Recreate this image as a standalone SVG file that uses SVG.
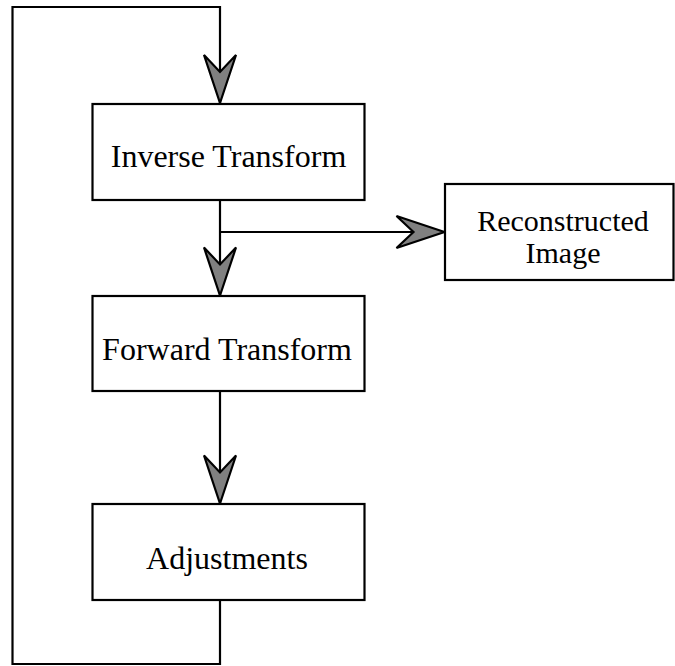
<svg xmlns="http://www.w3.org/2000/svg" width="675" height="666" viewBox="0 0 675 666">
<style>
.box{fill:#fff;stroke:#000;stroke-width:2.2}
.lbl{font-family:"Liberation Serif","Times New Roman",serif;font-size:32px;fill:#000;text-anchor:middle}
.lbl2{font-size:30px}
.conn{fill:none;stroke:#000;stroke-width:2.2}
</style>
<defs>
<marker id="arr" markerUnits="userSpaceOnUse" viewBox="-52 -20 56 40" markerWidth="56" markerHeight="40" refX="0" refY="0" orient="auto">
<path d="M0,0 L-48,-16 L-31,0 L-48,16 Z" fill="#808080" stroke="#000" stroke-width="2.2" stroke-linejoin="miter"/>
</marker>
</defs>
<rect width="675" height="666" fill="#fff"/>
<g id="connectors">
<path class="conn" d="M220,600 V664 H12.5 V7 H220 V103" marker-end="url(#arr)"/>
<path class="conn" d="M220,200 V295.5" marker-end="url(#arr)"/>
<path class="conn" d="M220,232 H444.5" marker-end="url(#arr)"/>
<path class="conn" d="M220,391 V503.5" marker-end="url(#arr)"/>
</g>
<g id="inverse">
<rect class="box" x="92.5" y="104" width="272" height="96"/>
<text class="lbl" x="228.5" y="167">Inverse Transform</text>
</g>
<g id="reconstructed">
<rect class="box" x="445" y="184" width="228.5" height="96"/>
<text class="lbl lbl2" x="563" y="231">Reconstructed</text>
<text class="lbl lbl2" x="563" y="263">Image</text>
</g>
<g id="forward">
<rect class="box" x="92.5" y="296" width="272" height="95"/>
<text class="lbl" x="227" y="360">Forward Transform</text>
</g>
<g id="adjustments">
<rect class="box" x="92.5" y="504" width="272" height="96"/>
<text class="lbl" x="227" y="569">Adjustments</text>
</g>
</svg>
